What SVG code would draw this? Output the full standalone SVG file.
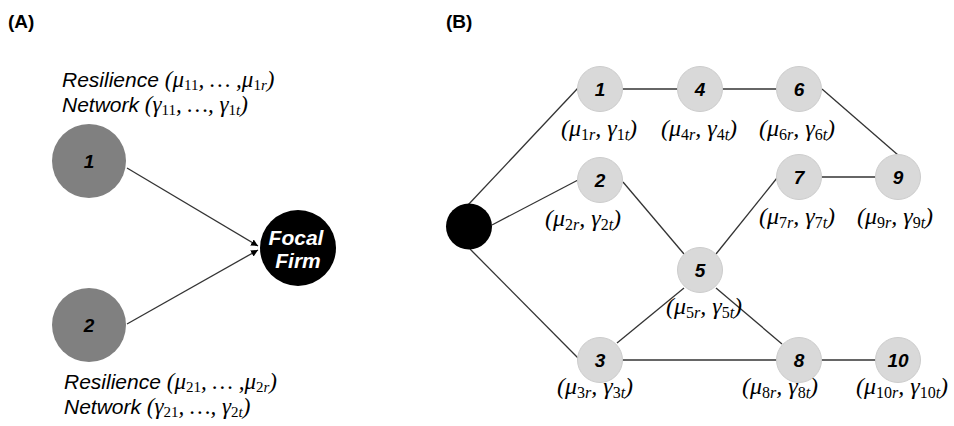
<svg xmlns="http://www.w3.org/2000/svg" width="954" height="426" viewBox="0 0 954 426">
<defs>
<marker id="arr" viewBox="0 0 10 10" refX="10" refY="5" markerWidth="7" markerHeight="7" markerUnits="userSpaceOnUse" orient="auto">
<path d="M0,0 L10,5 L0,10 z" fill="#000"/>
</marker>
<style>
.panel{font-family:"Liberation Sans",Arial,sans-serif;font-weight:bold;font-size:19px;fill:#000}
.lbl{font-family:"Liberation Sans",Arial,sans-serif;font-style:italic;font-size:21px;fill:#000}
.m{font-family:"Liberation Serif","Times New Roman",serif;font-style:italic;font-size:23px}
.up{font-style:normal}
.sub{font-size:15px}
.nodeA{fill:#808080}
.nodeB{fill:#d9d9d9;stroke:#cccccc;stroke-width:1}
.num{font-family:"Liberation Sans",Arial,sans-serif;font-weight:bold;font-style:italic;font-size:19px;fill:#000;text-anchor:middle}
.ff{font-family:"Liberation Sans",Arial,sans-serif;font-weight:bold;font-style:italic;font-size:21px;fill:#fff;text-anchor:middle}
.edge{stroke:#333;stroke-width:1.3;fill:none}
.ml{font-family:"Liberation Serif","Times New Roman",serif;font-style:italic;font-size:24px;fill:#000;text-anchor:middle}
.ml .sub{font-size:16px}
</style>
</defs>

<text class="panel" x="8" y="28">(A)</text>
<text class="panel" x="446" y="28">(B)</text>

<g id="connectors">
<line class="edge" x1="127" y1="168" x2="258" y2="246" marker-end="url(#arr)"/>
<line class="edge" x1="127" y1="324" x2="258" y2="250" marker-end="url(#arr)"/>
<line class="edge" x1="468" y1="205" x2="578" y2="88"/>
<line class="edge" x1="492" y1="225" x2="578" y2="180"/>
<line class="edge" x1="470" y1="249" x2="578" y2="358"/>
<line class="edge" x1="622" y1="89" x2="678" y2="89"/>
<line class="edge" x1="722" y1="89" x2="777" y2="89"/>
<line class="edge" x1="822" y1="89" x2="898" y2="155"/>
<line class="edge" x1="821" y1="177" x2="876" y2="177"/>
<line class="edge" x1="623" y1="182" x2="684" y2="254"/>
<line class="edge" x1="716" y1="254" x2="777" y2="178"/>
<line class="edge" x1="716" y1="288" x2="782" y2="344"/>
<line class="edge" x1="684" y1="288" x2="617" y2="343"/>
<line class="edge" x1="622" y1="360" x2="777" y2="360"/>
<line class="edge" x1="821" y1="360" x2="876" y2="360"/>
</g>

<g id="A1">
<circle class="nodeA" cx="89" cy="161" r="37"/>
<text class="num" x="89" y="168">1</text>
<text class="lbl" x="62" y="87">Resilience <tspan class="m">(μ<tspan class="sub up" dy="3">11</tspan><tspan dy="-3">,  … ,μ</tspan><tspan class="sub" dy="3"><tspan class="up">1</tspan>r</tspan><tspan dy="-3">)</tspan></tspan></text>
<text class="lbl" x="62" y="112">Network <tspan class="m">(γ<tspan class="sub up" dy="3">11</tspan><tspan dy="-3">, …, γ</tspan><tspan class="sub" dy="3"><tspan class="up">1</tspan>t</tspan><tspan dy="-3">)</tspan></tspan></text>
</g>

<g id="A2">
<circle class="nodeA" cx="89" cy="325" r="37"/>
<text class="num" x="89" y="332">2</text>
<text class="lbl" x="64" y="389">Resilience <tspan class="m">(μ<tspan class="sub up" dy="3">21</tspan><tspan dy="-3">,  … ,μ</tspan><tspan class="sub" dy="3"><tspan class="up">2</tspan>r</tspan><tspan dy="-3">)</tspan></tspan></text>
<text class="lbl" x="64" y="414">Network <tspan class="m">(γ<tspan class="sub up" dy="3">21</tspan><tspan dy="-3">, …, γ</tspan><tspan class="sub" dy="3"><tspan class="up">2</tspan>t</tspan><tspan dy="-3">)</tspan></tspan></text>
</g>

<g id="focal">
<circle cx="298" cy="248" r="38" fill="#000"/>
<text class="ff" x="296" y="245">Focal</text>
<text class="ff" x="298" y="268">Firm</text>
</g>

<g id="root">
<circle cx="469" cy="226.5" r="23" fill="#000"/>
</g>

<g id="n1"><circle class="nodeB" cx="600" cy="89" r="22.5"/><text class="num" x="600" y="96">1</text>
<text class="ml" x="599" y="136">(μ<tspan class="sub" dy="4"><tspan class="up">1</tspan>r</tspan><tspan dy="-4">, γ</tspan><tspan class="sub" dy="4"><tspan class="up">1</tspan>t</tspan><tspan dy="-4">)</tspan></text></g>
<g id="n4"><circle class="nodeB" cx="700" cy="89" r="22.5"/><text class="num" x="700" y="96">4</text>
<text class="ml" x="699" y="136">(μ<tspan class="sub" dy="4"><tspan class="up">4</tspan>r</tspan><tspan dy="-4">, γ</tspan><tspan class="sub" dy="4"><tspan class="up">4</tspan>t</tspan><tspan dy="-4">)</tspan></text></g>
<g id="n6"><circle class="nodeB" cx="799" cy="89" r="22.5"/><text class="num" x="799" y="96">6</text>
<text class="ml" x="797" y="136">(μ<tspan class="sub" dy="4"><tspan class="up">6</tspan>r</tspan><tspan dy="-4">, γ</tspan><tspan class="sub" dy="4"><tspan class="up">6</tspan>t</tspan><tspan dy="-4">)</tspan></text></g>
<g id="n2"><circle class="nodeB" cx="600" cy="180" r="22.5"/><text class="num" x="600" y="187">2</text>
<text class="ml" x="583" y="226">(μ<tspan class="sub" dy="4"><tspan class="up">2</tspan>r</tspan><tspan dy="-4">, γ</tspan><tspan class="sub" dy="4"><tspan class="up">2</tspan>t</tspan><tspan dy="-4">)</tspan></text></g>
<g id="n7"><circle class="nodeB" cx="799" cy="177" r="22.5"/><text class="num" x="799" y="184">7</text>
<text class="ml" x="797" y="224">(μ<tspan class="sub" dy="4"><tspan class="up">7</tspan>r</tspan><tspan dy="-4">, γ</tspan><tspan class="sub" dy="4"><tspan class="up">7</tspan>t</tspan><tspan dy="-4">)</tspan></text></g>
<g id="n9"><circle class="nodeB" cx="898" cy="177" r="22.5"/><text class="num" x="898" y="184">9</text>
<text class="ml" x="895" y="224">(μ<tspan class="sub" dy="4"><tspan class="up">9</tspan>r</tspan><tspan dy="-4">, γ</tspan><tspan class="sub" dy="4"><tspan class="up">9</tspan>t</tspan><tspan dy="-4">)</tspan></text></g>
<g id="n5"><circle class="nodeB" cx="700" cy="270" r="22.5"/><text class="num" x="700" y="277">5</text>
<text class="ml" x="704" y="314">(μ<tspan class="sub" dy="4"><tspan class="up">5</tspan>r</tspan><tspan dy="-4">, γ</tspan><tspan class="sub" dy="4"><tspan class="up">5</tspan>t</tspan><tspan dy="-4">)</tspan></text></g>
<g id="n3"><circle class="nodeB" cx="600" cy="360" r="22.5"/><text class="num" x="600" y="367">3</text>
<text class="ml" x="595" y="394">(μ<tspan class="sub" dy="4"><tspan class="up">3</tspan>r</tspan><tspan dy="-4">, γ</tspan><tspan class="sub" dy="4"><tspan class="up">3</tspan>t</tspan><tspan dy="-4">)</tspan></text></g>
<g id="n8"><circle class="nodeB" cx="799" cy="360" r="22.5"/><text class="num" x="799" y="367">8</text>
<text class="ml" x="780" y="394">(μ<tspan class="sub" dy="4"><tspan class="up">8</tspan>r</tspan><tspan dy="-4">, γ</tspan><tspan class="sub" dy="4"><tspan class="up">8</tspan>t</tspan><tspan dy="-4">)</tspan></text></g>
<g id="n10"><circle class="nodeB" cx="898" cy="360" r="22.5"/><text class="num" x="898" y="367">10</text>
<text class="ml" x="902" y="394">(μ<tspan class="sub" dy="4"><tspan class="up">10</tspan>r</tspan><tspan dy="-4">, γ</tspan><tspan class="sub" dy="4"><tspan class="up">10</tspan>t</tspan><tspan dy="-4">)</tspan></text></g>
</svg>
